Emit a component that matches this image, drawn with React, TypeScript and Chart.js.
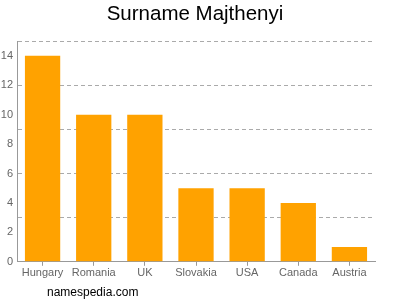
import React, { useEffect, useRef } from "react";
import { Chart, registerables } from "chart.js";

Chart.register(...registerables);

const categories = ["Hungary", "Romania", "UK", "Slovakia", "USA", "Canada", "Austria"];
const counts = [14, 10, 10, 5, 5, 4, 1];
const titleText = "Surname Majthenyi";
const footerText = "namespedia.com";

export default function App() {
  const ref = useRef<HTMLCanvasElement | null>(null);
  useEffect(() => {
    document.body.style.margin = "0";
    const chart = new Chart(ref.current!, {
      type: "bar",
      data: {
        labels: categories,
        datasets: [
          {
            data: counts,
            backgroundColor: "#FFA200",
            barPercentage: 0.69,
            categoryPercentage: 1,
          },
        ],
      },
      options: {
        animation: false,
        responsive: false,
        layout: { padding: { left: 0, right: 10, top: 0, bottom: 19 } },
        plugins: {
          legend: { display: false },
          tooltip: { enabled: false },
          title: {
            display: true,
            text: titleText,
            color: "#000",
            font: { family: "'Liberation Sans', Arial, sans-serif", size: 20.5, weight: "normal" },
            padding: { top: 2, bottom: 14.5 },
          },
        },
        scales: {
          x: {
            grid: { drawOnChartArea: false, offset: false, tickLength: 4, tickColor: "#999" },
            border: { color: "#999" },
            ticks: { color: "#666", font: { family: "'Liberation Sans', Arial, sans-serif", size: 11 }, padding: 1, maxRotation: 0 },
          },
          y: {
            min: 0,
            max: 15,
            afterFit: (s: any) => { s.width = 17; },
            grid: {
              drawTicks: false,
              color: (ctx: any) => (ctx.tick && ctx.tick.value % 3 === 0 && ctx.tick.value > 0 ? "#aaa" : "rgba(0,0,0,0)"),
            },
            border: { color: "#999", dash: [4, 3] },
            ticks: {
              stepSize: 1,
              autoSkip: false,
              color: "#666",
              padding: 4,
              font: { family: "'Liberation Sans', Arial, sans-serif", size: 11 },
              callback: (v: any) => (Number(v) % 2 === 0 && Number(v) < 15 ? String(v) : ""),
            },
          },
          spacer: {
            type: "linear",
            position: "right",
            display: true,
            afterFit: (s: any) => { s.width = 15; },
            grid: { display: false, drawTicks: false },
            border: { display: false },
            ticks: { display: false },
          },
        },
      },
    });
    return () => chart.destroy();
  }, []);
  return (
    <div style={{ position: "relative", width: 400, height: 300 }}>
      <canvas ref={ref} width={400} height={300} />
      <div
        style={{
          position: "absolute",
          left: 47,
          top: 284,
          fontFamily: "'Liberation Sans', Arial, sans-serif",
          fontSize: 12,
          color: "#000",
          lineHeight: "16px",
        }}
      >
        {footerText}
      </div>
    </div>
  );
}
